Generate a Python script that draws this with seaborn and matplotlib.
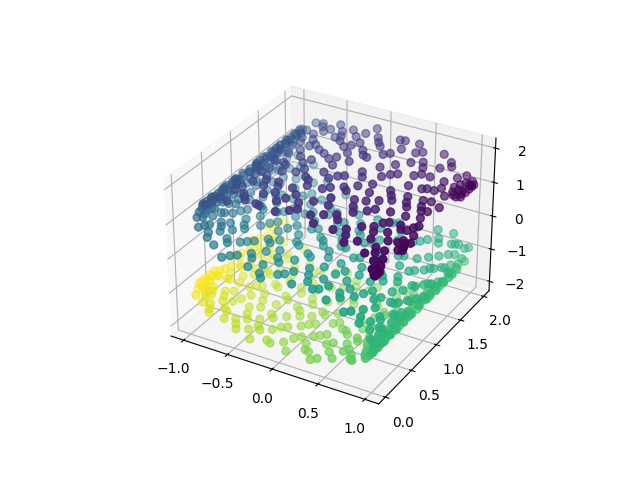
import numpy as np
import matplotlib
matplotlib.use("Agg")
import matplotlib.pyplot as plt
import seaborn as sns

upper_x = [1.0,.99,.98,.95,.92,.87,.82,.76,.69,.61,.53,.44,.35,.26,.16,.06,-.04,-.14,-.24,-.33,-.43,-.52,-.60,-.68,-.75,-.81,-.86,-.91,-.95,-.97,-.99,-1,-1,-.99,-.96,-.93,-.89,-.84,-.78,-.72,-.64,-.56,-.48,-.39,-.30,-.20,-.10,0]
upper_z = [1.01,1.11,1.21,1.31,1.40,1.49,1.57,1.65,1.73,1.79,1.85,1.90,1.94,1.97,1.99,2.0,2.0,1.99,1.97,1.94,1.90,1.86,1.80,1.74,1.67,1.59,1.50,1.42,1.32,1.23,1.13,1.03,.93,.83,.73,.64,.55,.46,.38,.30,.24,.17,.12,.08,.04,.02,.0,.0]
upper_c = [-4.7,-4.6,-4.5,-4.4,-4.3,-4.2,-4.1,-4.0,-3.9,-3.8,-3.7,-3.6,-3.5,-3.4,-3.3,-3.2,-3.1,-3.0,-2.9,-2.8,-2.7,-2.6,-2.5,-2.4,-2.3,-2.2,-2.1,-2.0,-1.9,-1.8,-1.7,-1.6,-1.5,-1.4,-1.3,-1.2,-1.1,-1.0,-.9,-.8,-.7,-.6,-.5,-.4,-.3,-.2,-.1,0]
upper_y = [
 [.04,.08,.12,.55,.7,1.7,1.8,1.88,1.94,1.98],
 [.05,.1,.16,.48,.62,.78,1.62,1.75,1.9,1.97],
 [.02,.22,.6,.9,1.3,1.58,1.7,1.85],
 [.1,.3,.72,.98,1.12,1.46,1.66,1.92],
 [.18,.42,.66,1.05,1.25,1.78],
 [.08,.5,.84,1.18,1.4,1.6],
 [.28,.62,.95,1.35,1.85],
 [.14,.44,.75,1.08,1.52,1.72],
 [.02,.34,.9,1.22,1.48,1.94],
 [.2,.58,.8,1.02,1.66],
 [.1,.46,.7,1.3,1.56,1.8],
 [.32,.64,.98,1.15,1.42,1.9],
 [.06,.24,.86,1.28,1.7],
 [.16,.52,.76,1.1,1.5,1.84],
 [.38,.68,.94,1.36,1.62],
 [.12,.28,.82,1.2,1.46,1.76],
 [.04,.4,.6,.9,1.06,1.34,1.58,1.92],
 [.22,.5,.74,1.16,1.44,1.68],
 [.08,.36,.88,1.24,1.54,1.8],
 [.3,.56,1.0,1.3,1.6,1.74],
 [.14,.46,.78,1.12,1.4,1.88],
 [.26,.66,.96,1.26,1.5,1.7],
 [.1,.54,.84,1.18,1.64,1.82],
 [.34,.7,1.04,1.38,1.56],
 [.2,.48,.92,1.22,1.76,1.94],
 [.06,.6,.8,1.1,1.46,1.66],
 [.28,.44,1.0,1.32,1.6,1.86],
 [.16,.52,.72,1.14,1.52,1.78],
 [.36,.62,.9,1.28,1.42,1.7,1.96],
 [.24,.5,.82,1.06,1.36,1.62,1.9],
 [.3,.58,.76,.98,1.2,1.5,1.74,1.98],
 [.22,.4,.64,.86,1.12,1.34,1.56,1.84],
 [.18,.34,.52,.7,.94,1.26,1.48,1.68,1.92],
 [.26,.46,.6,.78,1.04,1.3,1.58,1.8],
 [.14,.38,.66,.88,1.16,1.44,1.72],
 [.28,.54,.74,1.0,1.24,1.52,1.88],
 [.2,.42,.62,.92,1.34,1.66],
 [.32,.5,.8,1.08,1.4,1.78],
 [.12,.44,.68,.96,1.22,1.6,1.94],
 [.26,.56,.84,1.14,1.48],
 [.04,.36,.72,1.02,1.32,1.7],
 [.18,.48,.9,1.2,1.54,1.84],
 [.3,.6,.78,1.1,1.38],
 [.1,.42,.66,.98,1.28,1.62],
 [.22,.52,.86,1.16,1.46,1.76],
 [.02,.34,.7,1.06,1.42],
 [.16,.46,.94,1.26,1.58],
 [.28,.58,.82,1.12,1.5],
]

lower_x = [.10,.20,.30,.39,.48,.56,.64,.72,.78,.84,.89,.93,.96,.99,1,1,.99,.97,.95,.91,.86,.81,.75,.68,.60,.52,.43,.33,.24,.14,.04,-.06,-.16,-.26,-.35,-.44,-.53,-.61,-.69,-.76,-.82,-.87,-.92,-.95,-.98,-.99,-1]
lower_z = [0,-.02,-.04,-.08,-.12,-.17,-.24,-.30,-.38,-.46,-.55,-.64,-.73,-.83,-.93,-1.03,-1.13,-1.23,-1.32,-1.42,-1.50,-1.59,-1.67,-1.74,-1.80,-1.86,-1.90,-1.94,-1.97,-1.99,-2,-2,-1.99,-1.97,-1.94,-1.90,-1.85,-1.79,-1.73,-1.65,-1.57,-1.49,-1.40,-1.31,-1.21,-1.11,-1.01]
lower_c = [.1,.2,.3,.4,.5,.6,.7,.8,.9,1.0,1.1,1.2,1.3,1.4,1.5,1.6,1.7,1.8,1.9,2.0,2.1,2.2,2.3,2.4,2.5,2.6,2.7,2.8,2.9,3.0,3.1,3.2,3.3,3.4,3.5,3.6,3.7,3.8,3.9,4.0,4.1,4.2,4.3,4.4,4.5,4.6,4.7]
lower_y = [
 [.08,.4,.76,1.0,1.36],
 [.2,.5,.9,1.18,1.52],
 [.12,.32,.64,1.08,1.4],
 [.26,.56,.84,1.22,1.6],
 [.06,.44,.72,1.04,1.48],
 [.18,.36,.96,1.3,1.66],
 [.3,.6,.8,1.14,1.44],
 [.1,.5,.7,1.02,1.58,1.8],
 [.22,.42,.88,1.26,1.7],
 [.04,.34,.66,1.1,1.38,1.9],
 [.16,.54,.78,1.2,1.5,1.76],
 [.08,.28,.62,.94,1.32,1.62,1.84],
 [.2,.46,.74,1.06,1.42,1.7],
 [.03,.14,.38,.58,.86,1.16,1.56,1.94],
 [.06,.1,.24,.5,.68,.98,1.28,1.48,1.78],
 [.02,.12,.18,.3,.44,.9,1.12,1.36,1.52,1.66],
 [.05,.15,.22,.34,.6,.76,1.04,1.24,1.42,1.6,1.86],
 [.08,.26,.4,.52,.82,1.18,1.46,1.74],
 [.1,.2,.32,.56,.7,.96,1.34,1.68],
 [.04,.16,.42,.62,.88,1.08,1.3,1.56],
 [.12,.3,.5,.78,1.0,1.22,1.5,1.8],
 [.24,.46,.66,.92,1.14,1.44],
 [.07,.36,.58,.84,1.28,1.62],
 [.18,.52,.74,1.06,1.4],
 [.28,.44,.96,1.2,1.58],
 [.1,.38,.68,.9,1.34],
 [.2,.54,.8,1.12,1.52],
 [.02,.32,.62,1.02,1.26],
 [.14,.48,.72,.94,1.46],
 [.26,.4,.86,1.16,1.7],
 [.06,.34,.6,.78,1.08,1.38],
 [.18,.5,.7,1.0,1.3],
 [.1,.42,.64,.88,1.24,1.56],
 [.3,.56,.76,1.1,1.5],
 [.04,.22,.46,.98,1.2],
 [.16,.36,.66,.84,1.34],
 [.08,.28,.52,1.06,1.44],
 [.2,.44,.72,.92,1.28],
 [.12,.6,.8,1.14,1.6],
 [.24,.38,.68,1.02,1.4],
 [.06,.3,.5,.86,1.2],
 [.16,.42,.74,1.1,1.5],
 [.1,.26,.58,.96,1.3],
 [.2,.34,.64,.82,1.18,1.46],
 [.08,.24,.48,.7,1.04,1.36,1.7],
 [.14,.3,.4,.52,.9,1.24,1.56],
 [.18,.22,.28,.36,.44,.76,1.12,1.42],
]

extra_x = [.995,.965,.895,.79,.65,.485,.305,.11,-.09,-.285,-.475,-.64,-.78,-.885,-.96,-.995,-.995,-.945,-.865,-.75,-.60,-.435,-.25,-.05,
           .15,.345,.52,.68,.81,.91,.975,1.0,.98,.93,.835,.715,.56,.38,.19,-.01,-.21,-.395,-.57,-.725,-.845,-.935,-.985]
extra_z = [1.06,1.26,1.445,1.61,1.76,1.875,1.955,1.995,1.995,1.955,1.88,1.77,1.63,1.46,1.275,1.08,.88,.685,.505,.34,.205,.10,.03,.0,
           -.01,-.06,-.145,-.27,-.42,-.595,-.78,-.98,-1.18,-1.37,-1.545,-1.705,-1.83,-1.92,-1.98,-2.0,-1.98,-1.92,-1.82,-1.69,-1.53,-1.355,-1.16]
extra_c = [-4.65,-4.45,-4.25,-4.05,-3.85,-3.65,-3.45,-3.25,-3.05,-2.85,-2.65,-2.45,-2.25,-2.05,-1.85,-1.65,-1.45,-1.25,-1.05,-.85,-.65,-.45,-.25,-.05,
           .15,.35,.55,.75,.95,1.15,1.35,1.55,1.75,1.95,2.15,2.35,2.55,2.75,2.95,3.15,3.35,3.55,3.75,3.95,4.15,4.35,4.55]
extra_y = [
 [.03,.09,.58,1.72,1.92],
 [.14,.52,.82,1.6,1.76],
 [.24,.7,1.1,1.5],
 [.38,.56,1.0,1.3,1.9],
 [.12,.66,.96,1.4,1.58],
 [.26,.54,.84,1.24,1.74],
 [.4,.72,1.02,1.56,1.86],
 [.18,.62,.9,1.38,1.68],
 [.3,.7,1.22,1.5,1.78],
 [.1,.48,.8,1.08,1.64],
 [.2,.58,.92,1.36,1.76],
 [.42,.76,1.0,1.46,1.9],
 [.12,.54,.88,1.3,1.7],
 [.26,.66,1.06,1.4,1.6,1.84],
 [.3,.56,.74,1.16,1.54,1.8],
 [.26,.48,.7,.92,1.24,1.46,1.66,1.88],
 [.3,.42,.62,.84,1.1,1.38,1.76],
 [.22,.5,.8,1.12,1.56],
 [.14,.38,.72,1.2,1.5],
 [.3,.6,.94,1.28,1.72],
 [.12,.42,.82,1.08,1.44],
 [.24,.56,.88,1.2,1.52],
 [.08,.4,.74,1.02,1.34],
 [.2,.62,.9,1.3],
 [.3,.66,.9,1.24],
 [.16,.46,.8,1.14,1.56],
 [.24,.6,.88,1.34],
 [.04,.4,.76,1.18,1.5],
 [.12,.5,.82,1.04,1.64],
 [.3,.56,.92,1.28,1.8],
 [.02,.22,.48,.76,1.12,1.46,1.88],
 [.04,.08,.16,.26,.38,.64,1.0,1.22,1.7],
 [.02,.1,.2,.28,.46,.72,.94,1.1,1.32,1.54],
 [.06,.14,.36,.48,.66,.86,1.2,1.48,1.64],
 [.18,.34,.6,.84,1.16,1.38],
 [.1,.42,.7,.98,1.3],
 [.24,.5,.76,1.02,1.46],
 [.06,.36,.6,.88,1.2],
 [.16,.44,.68,1.08,1.36],
 [.28,.56,.82,1.14,1.48],
 [.12,.38,.72,.96,1.26],
 [.26,.5,.8,1.06,1.42],
 [.14,.34,.62,.9,1.18],
 [.22,.48,.76,1.0,1.34],
 [.1,.36,.64,.94,1.26],
 [.18,.3,.56,.8,1.12,1.4],
 [.2,.26,.34,.46,.6,.86,1.14,1.5],
]

band_x = upper_x + lower_x + extra_x
band_z = upper_z + lower_z + extra_z
band_c = upper_c + lower_c + extra_c
band_y = upper_y + lower_y + extra_y
counts = [len(row) for row in band_y]

x = np.repeat(band_x, counts)
z = np.repeat(band_z, counts)
c = np.repeat(band_c, counts)
y = np.concatenate(band_y)

viridis = sns.color_palette("viridis", as_cmap=True)

fig = plt.figure(figsize=(6.4, 4.8), dpi=100)
ax = fig.add_subplot(111, projection="3d")
ax.scatter(x, y, z, c=c, cmap=viridis, s=32)
fig.savefig("out.png", dpi=100)
